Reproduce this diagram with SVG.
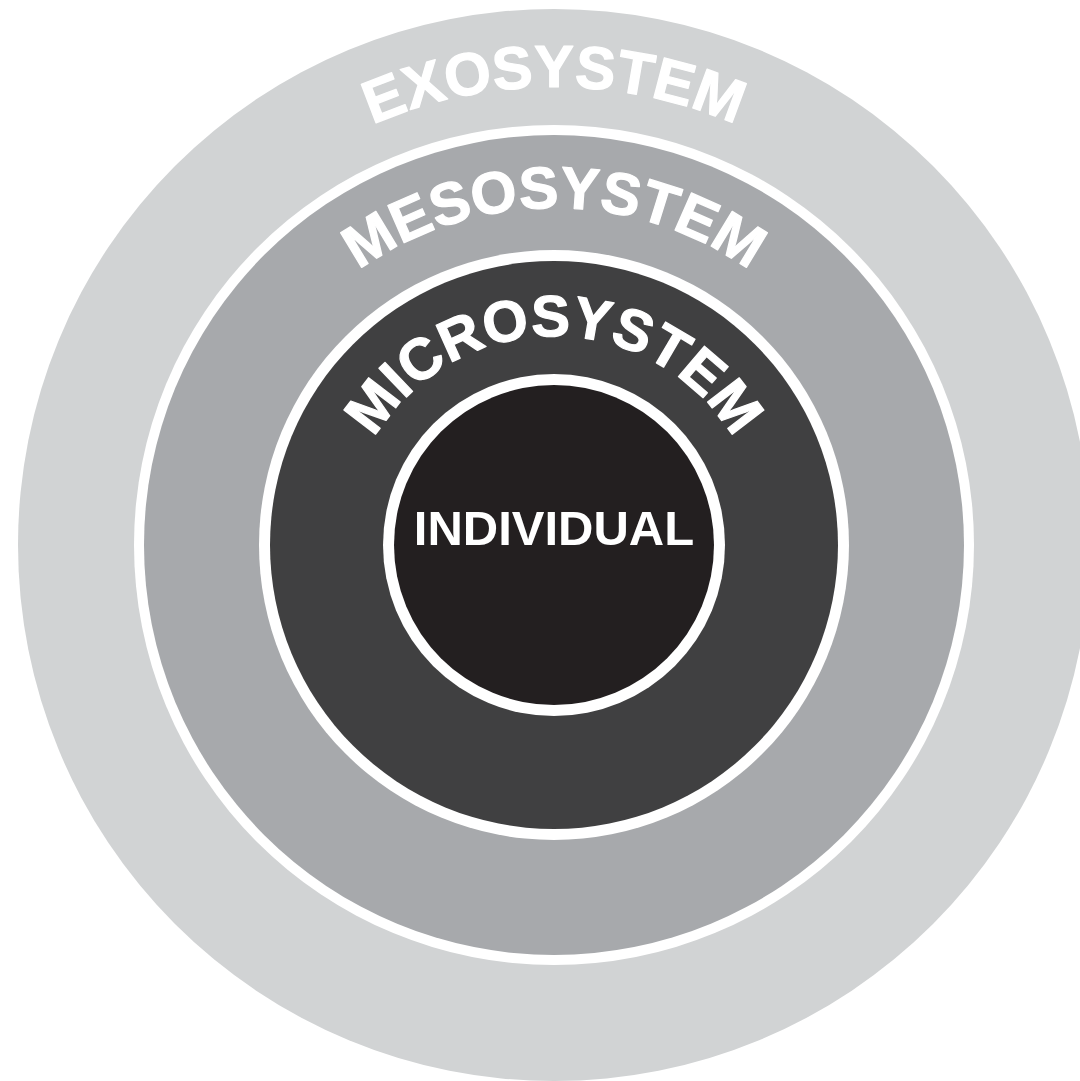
<svg xmlns="http://www.w3.org/2000/svg" xmlns:xlink="http://www.w3.org/1999/xlink" width="1080" height="1081" viewBox="0 0 1080 1081">
  <style>
    .lbl { fill: #ffffff; font-family: "Liberation Sans", Arial, Helvetica, sans-serif; font-weight: bold; }
    .arc { stroke: #ffffff; stroke-width: 1.2; stroke-linejoin: round; }
    .ring { fill: #ffffff; }
  </style>
  <defs>
    <path id="arcExo" d="M 96 545 A 458 458 0 0 1 1012 545"/>
    <path id="arcMeso" d="M 217 545 A 337 337 0 0 1 891 545"/>
    <path id="arcMicro" d="M 345 545 A 209 209 0 0 1 763 545"/>
  </defs>
  <rect width="1080" height="1081" fill="#ffffff"/>
  <g id="exosystem">
    <circle cx="554" cy="545" r="536" fill="#d1d3d4"/>
    <text class="lbl arc" font-size="60"><textPath href="#arcExo" xlink:href="#arcExo" startOffset="50%" text-anchor="middle">EXOSYSTEM</textPath></text>
  </g>
  <g id="mesosystem">
    <circle class="ring" cx="554" cy="545" r="420"/>
    <circle cx="554" cy="545" r="410" fill="#a7a9ac"/>
    <text class="lbl arc" font-size="59"><textPath href="#arcMeso" xlink:href="#arcMeso" startOffset="50%" text-anchor="middle">MESOSYSTEM</textPath></text>
  </g>
  <g id="microsystem">
    <circle class="ring" cx="554" cy="545" r="295"/>
    <circle cx="554" cy="545" r="284" fill="#404041"/>
    <text class="lbl arc" font-size="58"><textPath href="#arcMicro" xlink:href="#arcMicro" startOffset="50%" text-anchor="middle">MICROSYSTEM</textPath></text>
  </g>
  <g id="individual">
    <circle class="ring" cx="554" cy="545" r="171"/>
    <circle cx="554" cy="545" r="160" fill="#231f20"/>
    <text class="lbl" x="554" y="545" font-size="49" text-anchor="middle">INDIVIDUAL</text>
  </g>
  <g id="connectors"/>
</svg>
